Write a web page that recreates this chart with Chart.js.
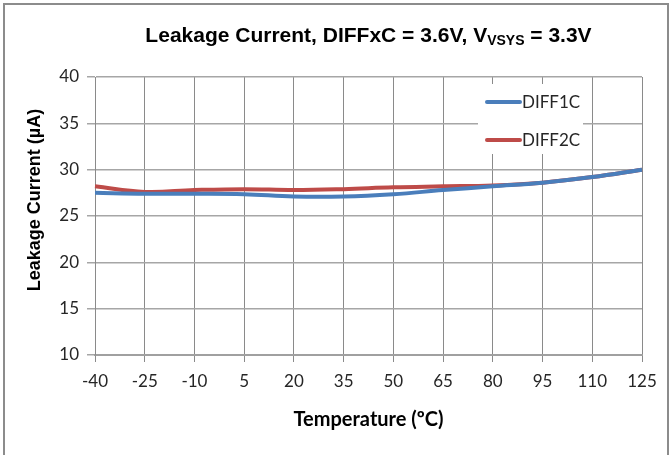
<!DOCTYPE html>
<html>
<head>
<meta charset="utf-8">
<script src="https://cdn.jsdelivr.net/npm/chart.js@4/dist/chart.umd.min.js"></script>
<style>
  body { margin: 0; background: #fff; }
  #wrap { position: relative; width: 669px; height: 455px; }
  #frame { position: absolute; left: 3px; top: 3px; width: 662px; height: 470px;
           border: 2px solid #8c8c8c; pointer-events: none; }
</style>
</head>
<body>
<div id="wrap">
  <canvas id="myChart" width="669" height="455"></canvas>
  <div id="frame"></div>
</div>
<script>
const ctx = document.getElementById("myChart").getContext("2d");

const labels = ["-40", "-25", "-10", "5", "20", "35", "50", "65", "80", "95", "110", "125"];

const diff1c = [27.5, 27.4, 27.4, 27.35, 27.1, 27.1, 27.35, 27.8, 28.2, 28.6, 29.2, 30.0];
const diff2c = [28.2, 27.6, 27.8, 27.9, 27.8, 27.9, 28.1, 28.2, 28.3, 28.6, 29.2, 30.0];

const blue = "#4a7ebb";
const red = "#be4b48";

// title with subscript, y axis title and the inset legend
const extras = {
    id: "extras",
    afterDatasetsDraw(chart) {
        const c = chart.ctx;
        c.save();

        // legend box
        c.fillStyle = "#fff";
        c.fillRect(478, 84, 105, 70);
        const items = [["DIFF1C", blue, 102], ["DIFF2C", red, 140]];
        items.forEach(([name, color, y]) => {
            c.strokeStyle = color;
            c.lineWidth = 4;
            c.lineCap = "round";
            c.beginPath();
            c.moveTo(487, y);
            c.lineTo(520, y);
            c.stroke();
            c.fillStyle = "#262626";
            c.font = "17px Lato";
            c.textBaseline = "middle";
            c.textAlign = "left";
            c.fillText(name, 522, y + 1);
        });

        // chart title
        c.fillStyle = "#000";
        c.textBaseline = "alphabetic";
        const big = "bold 21px 'Liberation Sans'";
        const small = "bold 14px 'Liberation Sans'";
        const parts = [
            ["Leakage Current, DIFFxC = 3.6V, V", big, 0],
            ["VSYS", small, 3],
            [" = 3.3V", big, 0]
        ];
        let total = 0;
        parts.forEach(p => { c.font = p[1]; total += c.measureText(p[0]).width; });
        let x = 368.5 - total / 2;
        parts.forEach(p => {
            c.font = p[1];
            c.fillText(p[0], x, 42 + p[2]);
            x += c.measureText(p[0]).width;
        });

        // y axis title
        c.translate(35, 200);
        c.rotate(-Math.PI / 2);
        c.font = "bold 18px 'Liberation Sans'";
        c.textAlign = "center";
        c.textBaseline = "middle";
        c.fillText("Leakage Current (\u00b5A)", 0, 0);
        c.restore();
    }
};

const data = {
    labels,
    datasets: [
        {
            label: "DIFF1C",
            data: diff1c,
            borderColor: blue,
            backgroundColor: blue,
            borderWidth: 4,
            pointRadius: 0,
            tension: 0.4
        },
        {
            label: "DIFF2C",
            data: diff2c,
            borderColor: red,
            backgroundColor: red,
            borderWidth: 4,
            pointRadius: 0,
            tension: 0.4
        }
    ]
};

const config = {
    type: "line",
    data: data,
    options: {
        responsive: false,
        animation: false,
        layout: {
            padding: { top: 77, right: 27, left: 0, bottom: 23 }
        },
        plugins: {
            legend: { display: false },
            title: { display: false },
            tooltip: { enabled: false }
        },
        scales: {
            x: {
                type: "category",
                offset: false,
                afterFit: (scale) => { scale.height = 77; },
                grid: { color: "#8a8a8a", tickLength: 7 },
                border: { color: "#a0a0a0", width: 2 },
                ticks: {
                    color: "#262626",
                    font: { family: "Lato", size: 17 },
                    maxRotation: 0,
                    autoSkip: false,
                    padding: 9
                },
                title: {
                    display: true,
                    text: "Temperature (\u00baC)",
                    color: "#000",
                    font: { family: "Lato", size: 20, weight: "bold" },
                    padding: { top: 8, bottom: 0 }
                }
            },
            y: {
                min: 10,
                max: 40,
                afterFit: (scale) => { scale.width = 95; },
                grid: { color: "#a6a6a6", lineWidth: 1.5, tickLength: 8 },
                border: { color: "#8a8a8a" },
                ticks: {
                    stepSize: 5,
                    color: "#262626",
                    font: { family: "Lato", size: 17 },
                    padding: 8
                }
            }
        }
    },
    plugins: [extras]
};

const myChart = new Chart(ctx, config);
</script>
</body>
</html>
